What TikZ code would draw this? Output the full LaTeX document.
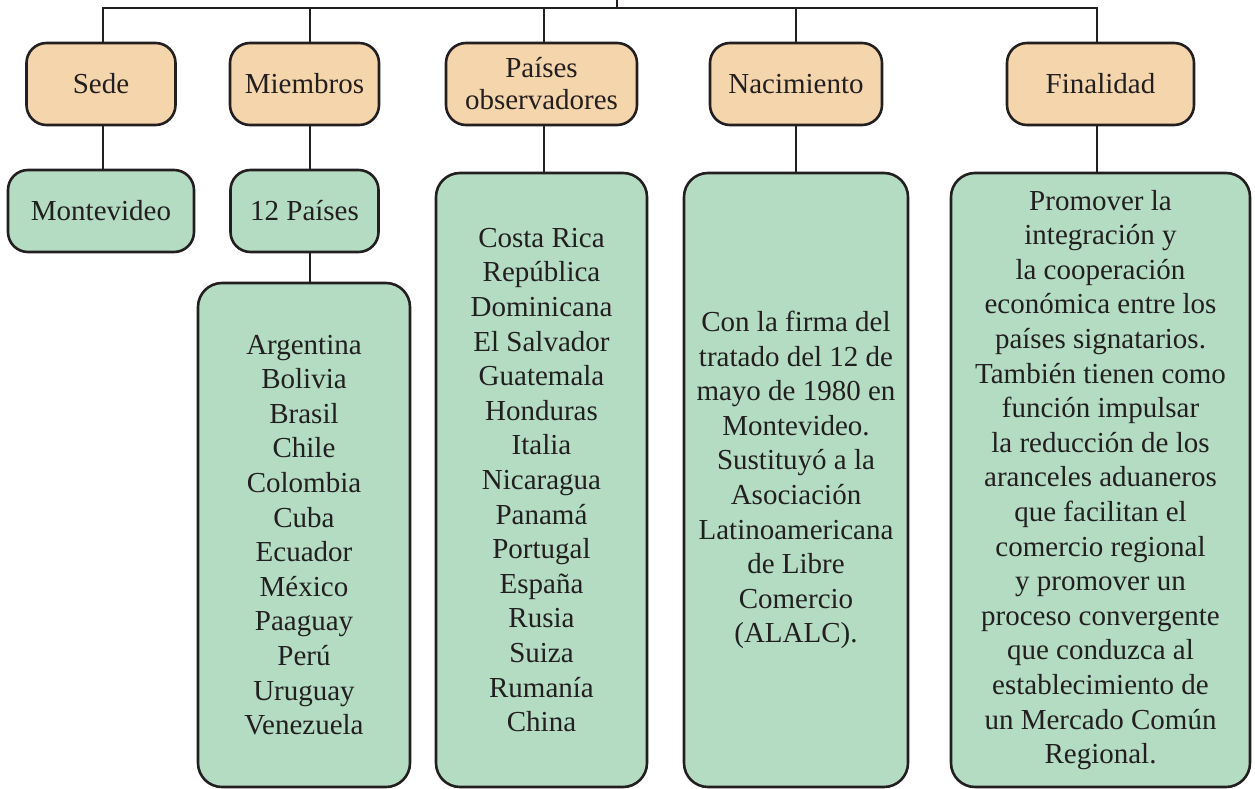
\documentclass[tikz,border=0pt]{standalone}
\usepackage{fontspec}
\setmainfont{Liberation Serif}
\usetikzlibrary{backgrounds}
\definecolor{hdrfill}{HTML}{F5D5AB}
\definecolor{boxfill}{HTML}{B3DCC2}
\definecolor{ink}{HTML}{231F20}
\begin{document}
\begin{tikzpicture}[x=1pt,y=-1pt,
  every node/.style={inner sep=0pt, outer sep=0pt, align=center, text=ink,
    font=\fontsize{29}{34.6}\selectfont},
  hdr/.style={draw=ink, line width=2.6pt, fill=hdrfill, rounded corners=20pt, minimum height=82pt},
  leaf/.style={draw=ink, line width=2.6pt, fill=boxfill, rounded corners=20pt, minimum height=82pt},
  listbox/.style={draw=ink, line width=2.6pt, fill=boxfill, rounded corners=24pt},
  conn/.style={draw=ink, line width=2.6pt}]
\useasboundingbox (0,0) rectangle (1255,789);
% headers
\node[hdr, minimum width=149pt] (sede) at (101,84) {Sede};
\node[hdr, minimum width=149pt] (mie) at (304.5,84) {Miembros};
\node[hdr, minimum width=191pt, font=\fontsize{29}{32}\selectfont] (obs) at (541.5,84) {Países\\observadores};
\node[hdr, minimum width=172pt] (nac) at (796,84) {Nacimiento};
\node[hdr, minimum width=187pt] (fin) at (1100.5,84) {Finalidad};
% second row
\node[leaf, minimum width=186pt] (mon) at (101,211) {Montevideo};
\node[leaf, minimum width=148pt] (doce) at (304.5,211) {12 Países};
% lists
\node[listbox, minimum width=212pt, minimum height=504pt] (mlist) at (304,535)
  {Argentina\\Bolivia\\Brasil\\Chile\\Colombia\\Cuba\\Ecuador\\México\\Paaguay\\Perú\\Uruguay\\Venezuela};
\node[listbox, minimum width=211pt, minimum height=614pt] (olist) at (541.5,480)
  {Costa Rica\\República\\Dominicana\\El Salvador\\Guatemala\\Honduras\\Italia\\Nicaragua\\Panamá\\Portugal\\España\\Rusia\\Suiza\\Rumanía\\China};
\node[listbox, minimum width=224pt, minimum height=614pt] (nlist) at (796,480)
  {Con la firma del\\tratado del 12 de\\mayo de 1980 en\\Montevideo.\\Sustituyó a la\\Asociación\\Latinoamericana\\de Libre\\Comercio\\(ALALC).};
\node[listbox, minimum width=299pt, minimum height=614pt] (flist) at (1100.5,480)
  {Promover la\\integración y\\la cooperación\\económica entre los\\países signatarios.\\También tienen como\\función impulsar\\la reducción de los\\aranceles aduaneros\\que facilitan el\\comercio regional\\y promover un\\proceso convergente\\que conduzca al\\establecimiento de\\un Mercado Común\\Regional.};
\coordinate (bar) at (617,8);
\coordinate (topend) at (617,0);
\begin{scope}[on background layer]
  \draw[conn, line join=miter] ([xshift=2pt]sede.north) |- (bar) -| ([xshift=-3.5pt]fin.north);
  \draw[conn] (bar) -- (topend);
  \draw[conn] ([xshift=5.5pt]mie.north) -- ([xshift=5.5pt]mie.north |- bar);
  \draw[conn] ([xshift=2.5pt]obs.north) -- ([xshift=2.5pt]obs.north |- bar);
  \draw[conn] (nac.north) -- (nac.north |- bar);
  \draw[conn] ([xshift=2pt]sede.south) -- ([xshift=2pt]sede.south |- mon.north);
  \draw[conn] ([xshift=5.5pt]mie.south) -- ([xshift=5.5pt]mie.south |- doce.north);
  \draw[conn] ([xshift=5.5pt]doce.south) -- ([xshift=5.5pt]doce.south |- mlist.north);
  \draw[conn] ([xshift=2.5pt]obs.south) -- ([xshift=2.5pt]obs.south |- olist.north);
  \draw[conn] (nac.south) -- (nac.south |- nlist.north);
  \draw[conn] ([xshift=-3.5pt]fin.south) -- ([xshift=-3.5pt]fin.south |- flist.north);
\end{scope}
\end{tikzpicture}
\end{document}
